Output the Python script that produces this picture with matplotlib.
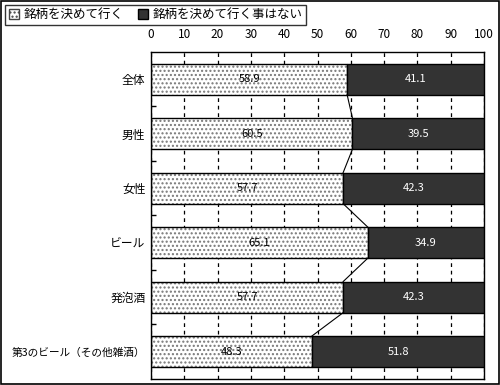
import matplotlib
matplotlib.use("Agg")
import matplotlib.pyplot as plt
from matplotlib.patches import Rectangle, Patch
import numpy as np

plt.rcParams['font.family'] = ['Noto Sans CJK JP', 'DejaVu Sans']

categories = ["全体", "男性", "女性", "ビール", "発泡酒", "第3のビール（その他雑酒）"]
decide = [58.9, 60.5, 57.7, 65.1, 57.7, 48.3]
not_decide = [41.1, 39.5, 42.3, 34.9, 42.3, 51.8]
series_names = ["銘柄を決めて行く", "銘柄を決めて行く事はない"]
xticks = [0, 10, 20, 30, 40, 50, 60, 70, 80, 90, 100]

dark = "#333333"
bar_h = 0.57

fig = plt.figure(figsize=(5, 3.85), dpi=100)
ax = fig.add_axes([0.302, 0.016, 0.666, 0.849])

y = np.arange(len(categories))
left = np.array(decide)
right = np.array(not_decide)

# dotted segment: hatch first, then black outline on top
ax.barh(y, left, height=bar_h, color="white", hatch="....", edgecolor="#777777",
        linewidth=0, zorder=2)
ax.barh(y, left, height=bar_h, fill=False, edgecolor="black", linewidth=1, zorder=3)
ax.barh(y, right, left=left, height=bar_h, color=dark, edgecolor="black",
        linewidth=1, zorder=3)

for i in range(len(categories)):
    ax.text(left[i] / 2, y[i], f"{left[i]:.1f}", ha="center", va="center",
            fontsize=8, color="black", zorder=4)
    ax.text(left[i] + right[i] / 2, y[i], f"{right[i]:.1f}", ha="center",
            va="center", fontsize=8, color="white", zorder=4)

# series lines between bars
for i in range(len(categories) - 1):
    ax.plot([left[i], left[i + 1]], [y[i] + bar_h / 2, y[i + 1] - bar_h / 2],
            color="black", linewidth=0.8, zorder=4)

ax.set_xlim(0, 100)
ax.set_ylim(len(categories) - 0.5, -0.5)
ax.xaxis.tick_top()
ax.set_xticks(xticks)
ax.tick_params(axis="x", length=0, pad=8, labelsize=8.5)
ax.set_yticks(y)
ax.set_yticklabels(categories, fontsize=8.5)
ax.get_yticklabels()[-1].set_fontsize(7.7)
ax.tick_params(axis="y", which="major", length=0, pad=4)
ax.set_yticks(np.arange(len(categories) - 1) + 0.5, minor=True)
ax.tick_params(axis="y", which="minor", direction="in", length=3.5, width=1)
ax.grid(axis="x", color="black", linestyle=(0, (3, 3)), linewidth=0.9, zorder=1)
ax.set_axisbelow(True)
for s in ax.spines.values():
    s.set_linewidth(1)

handles = [Patch(facecolor="white", hatch="....", edgecolor="#444444"),
           Patch(facecolor=dark, edgecolor="black")]
leg = fig.legend(handles, series_names, loc="upper left", bbox_to_anchor=(0.01, 0.988),
                 ncol=2, fontsize=9, frameon=True, fancybox=False,
                 handlelength=0.8, handleheight=0.8, handletextpad=0.4,
                 columnspacing=1.1, borderpad=0.3, borderaxespad=0)
leg.get_frame().set_edgecolor("black")
leg.get_frame().set_linewidth(1)

fig.patches.append(Rectangle((0.002, 0.003), 0.996, 0.994, transform=fig.transFigure,
                             fill=False, edgecolor="black", linewidth=1.2))

fig.savefig("out.png", dpi=100)
